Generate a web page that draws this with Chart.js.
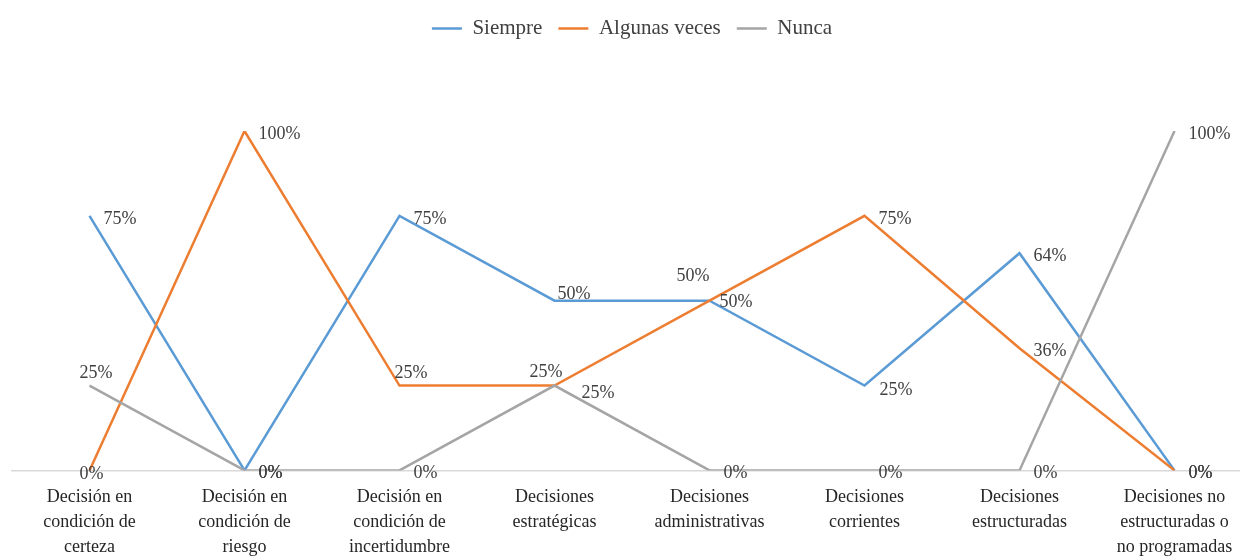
<!DOCTYPE html>
<html lang="es">

<head>
    <meta charset="UTF-8">
    <title>Tipos de decisiones</title>
    <script src="https://cdn.jsdelivr.net/npm/chart.js@4"></script>
    <style>
        * {
            margin: 0;
            padding: 0;
        }

        body {
            background: #fff;
            overflow: hidden;
            width: 1240px;
            height: 559px;
        }

        #box {
            position: relative;
            width: 1256px;
            height: 559px;
        }
    </style>
</head>

<body>
    <div id="box">
        <canvas id="chartCanvas"></canvas>
    </div>

    <script>
        const categorias = [
            ['Decisión en', 'condición de', 'certeza'],
            ['Decisión en', 'condición de', 'riesgo'],
            ['Decisión en', 'condición de', 'incertidumbre'],
            ['Decisiones', 'estratégicas'],
            ['Decisiones', 'administrativas'],
            ['Decisiones', 'corrientes'],
            ['Decisiones', 'estructuradas'],
            ['Decisiones no', 'estructuradas o', 'no programadas']
        ]
        const siempre = [75, 0, 75, 50, 50, 25, 64, 0]
        const algunasVeces = [0, 100, 25, 25, 50, 75, 36, 0]
        const nunca = [25, 0, 0, 25, 0, 0, 0, 100]

        // desplazamiento de cada etiqueta respecto a su punto [dx, dy]
        const defaultOffset = [14, 3]
        const labelOffsets = [
            { 3: [3, -6], 4: [10, 2], 5: [15, 5] },
            { 0: [-10, 4], 2: [-5, -12], 3: [-25, -13], 4: [-33, -24] },
            { 0: [-10, -12], 3: [27, 8] }
        ]

        const serif = "'Liberation Serif', 'Times New Roman', serif"

        const pointLabels = {
            id: 'pointLabels',
            afterDatasetsDraw(chart) {
                const ctx = chart.ctx
                ctx.save()
                ctx.font = '18px ' + serif
                ctx.fillStyle = '#404040'
                ctx.textAlign = 'left'
                ctx.textBaseline = 'middle'
                chart.data.datasets.forEach(function (ds, i) {
                    const meta = chart.getDatasetMeta(i)
                    meta.data.forEach(function (pt, j) {
                        const off = labelOffsets[i][j] || defaultOffset
                        ctx.fillText(ds.data[j] + '%', pt.x + off[0], pt.y + off[1])
                    })
                })
                ctx.restore()
            }
        }

        // deja aire entre la leyenda y el área del gráfico
        const legendGap = {
            id: 'legendGap',
            beforeInit(chart) {
                const fit = chart.legend.fit
                chart.legend.fit = function () {
                    fit.call(this)
                    this.height += 82
                }
            }
        }

        function serie(label, data, color, order) {
            return {
                label: label,
                data: data,
                borderColor: color,
                backgroundColor: color,
                borderWidth: 2.5,
                pointRadius: 0,
                tension: 0,
                order: order
            }
        }

        new Chart(document.getElementById('chartCanvas'), {
            type: 'line',
            data: {
                labels: categorias,
                datasets: [
                    serie('Siempre', siempre, '#5B9BD5', 3),
                    serie('Algunas veces', algunasVeces, '#ED7D31', 2),
                    serie('Nunca', nunca, '#A5A5A5', 1)
                ]
            },
            options: {
                responsive: true,
                maintainAspectRatio: false,
                animation: false,
                layout: {
                    padding: { left: 12, right: 4, top: 2, bottom: -15 }
                },
                plugins: {
                    tooltip: { enabled: false },
                    legend: {
                        position: 'top',
                        labels: {
                            usePointStyle: true,
                            pointStyle: 'line',
                            pointStyleWidth: 30,
                            color: '#404040',
                            font: { family: serif, size: 21 },
                            padding: 16,
                            sort: (a, b) => a.datasetIndex - b.datasetIndex
                        }
                    }
                },
                scales: {
                    x: {
                        offset: true,
                        grid: { display: false, drawTicks: false },
                        border: { display: true, color: '#D9D9D9', width: 1.5 },
                        ticks: {
                            color: '#262626',
                            font: { family: serif, size: 18, lineHeight: 1.4 },
                            padding: 14,
                            maxRotation: 0,
                            autoSkip: false
                        }
                    },
                    y: {
                        display: false,
                        min: 0,
                        max: 100
                    }
                }
            },
            plugins: [pointLabels, legendGap]
        })
    </script>
</body>

</html>
